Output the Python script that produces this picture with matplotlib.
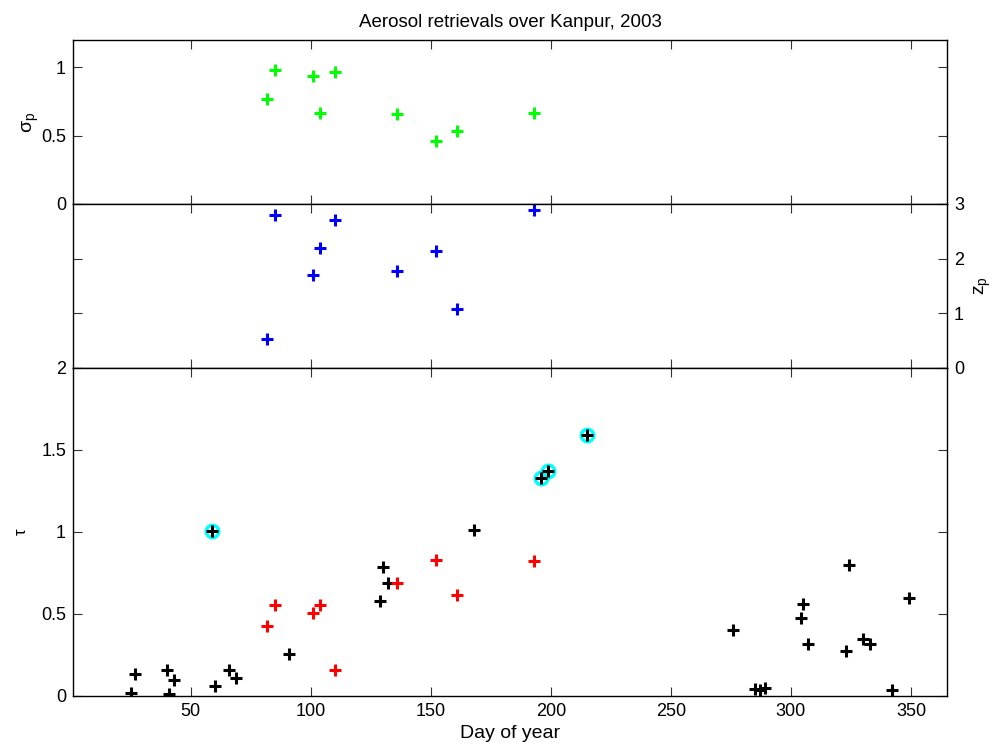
import matplotlib
matplotlib.use("Agg")
import matplotlib.pyplot as plt

plt.rcParams["font.family"] = ["Liberation Sans", "DejaVu Sans"]
plt.rcParams["mathtext.fontset"] = "custom"
plt.rcParams["mathtext.rm"] = "Liberation Sans"
plt.rcParams["mathtext.it"] = "Liberation Sans"

# Days with full retrievals (sigma_p, z_p and tau)
ret_days = [82, 85, 101, 104, 110, 136, 152, 161, 193]
sigma_p = [0.765, 0.98, 0.939, 0.667, 0.968, 0.657, 0.458, 0.537, 0.667]
z_p = [0.532, 2.792, 1.705, 2.193, 2.713, 1.772, 2.138, 1.088, 2.896]
tau_ret = [0.424, 0.552, 0.505, 0.552, 0.159, 0.688, 0.829, 0.613, 0.825]

# Days with optical depth only
obs_days = [25, 27, 40, 41, 43, 59, 60, 66, 69, 91, 129, 130, 132, 168,
            196, 199, 215, 276, 285, 287, 289, 304, 305, 307, 323, 324,
            330, 333, 342, 349]
tau_obs = [0.018, 0.134, 0.159, 0.014, 0.096, 1.006, 0.059, 0.161, 0.112,
           0.259, 0.580, 0.784, 0.690, 1.014, 1.330, 1.373, 1.591, 0.405,
           0.041, 0.035, 0.049, 0.473, 0.558, 0.320, 0.277, 0.796, 0.348,
           0.316, 0.037, 0.599]

# Flagged high-optical-depth days
flag_days = [59, 196, 199, 215]
flag_tau = [1.006, 1.330, 1.373, 1.591]

x_ticks = [50, 100, 150, 200, 250, 300, 350]

fig = plt.figure(figsize=(10, 7.45), dpi=100)
W, H = 1000, 745
left, right = 73, 947


def make_axes(top_px, bot_px):
    return fig.add_axes([left / W, 1 - bot_px / H, (right - left) / W,
                         (bot_px - top_px) / H])


ax_s = make_axes(40, 204)
ax_z = make_axes(204, 368)
ax_t = make_axes(368, 696)

plus_kw = dict(linestyle="none", marker="+", markersize=9, markeredgewidth=2.2)

ax_s.plot(ret_days, sigma_p, color=(0, 1, 0), **plus_kw)
ax_z.plot(ret_days, z_p, color=(0, 0, 1), **plus_kw)
ax_t.plot(flag_days, flag_tau, linestyle="none", marker="o", markersize=9,
          markerfacecolor="none", markeredgecolor=(0, 1, 1), markeredgewidth=2.5)
ax_t.plot(obs_days, tau_obs, color="black", **plus_kw)
ax_t.plot(ret_days, tau_ret, color=(1, 0, 0), **plus_kw)

for ax in (ax_s, ax_z, ax_t):
    ax.set_xlim(1, 365)
    ax.set_xticks(x_ticks)
    ax.tick_params(direction="in", length=6.5, width=0.8, top=True,
                   right=True, labelsize=13, pad=5, color="#333333")
    for sp in ax.spines.values():
        sp.set_linewidth(1.0)

ax_s.set_ylim(0, 1.2)
ax_s.set_yticks([0, 0.5, 1])
ax_s.set_yticklabels(["0", "0.5", "1"])
ax_s.tick_params(labelbottom=False)
ax_s.set_ylabel(r"$\sigma_\mathrm{p}$", fontsize=14, va="center")
ax_s.yaxis.set_label_coords((31 - left) / (right - left), 0.5)
ax_s.set_title("Aerosol retrievals over Kanpur, 2003", fontsize=13.5, pad=9)

ax_z.set_ylim(0, 3)
ax_z.set_yticks([0, 1, 2, 3])
ax_z.tick_params(labelbottom=False, labelleft=False, labelright=True)
ax_z.yaxis.set_label_position("right")
ax_z.set_ylabel(r"$z_\mathrm{p}$", fontsize=14, va="center")
ax_z.yaxis.set_label_coords((983 - left) / (right - left), 0.5)

ax_t.set_ylim(0, 2)
ax_t.set_yticks([0, 0.5, 1, 1.5, 2])
ax_t.set_yticklabels(["0", "0.5", "1", "1.5", "2"])
ax_t.set_xticklabels([str(v) for v in x_ticks])
ax_t.set_ylabel(r"$\tau$", fontsize=12, va="center")
ax_t.yaxis.set_label_coords((22 - left) / (right - left), 0.5)
ax_t.set_xlabel("Day of year", fontsize=14, labelpad=4)

fig.savefig("out.png", dpi=100)
